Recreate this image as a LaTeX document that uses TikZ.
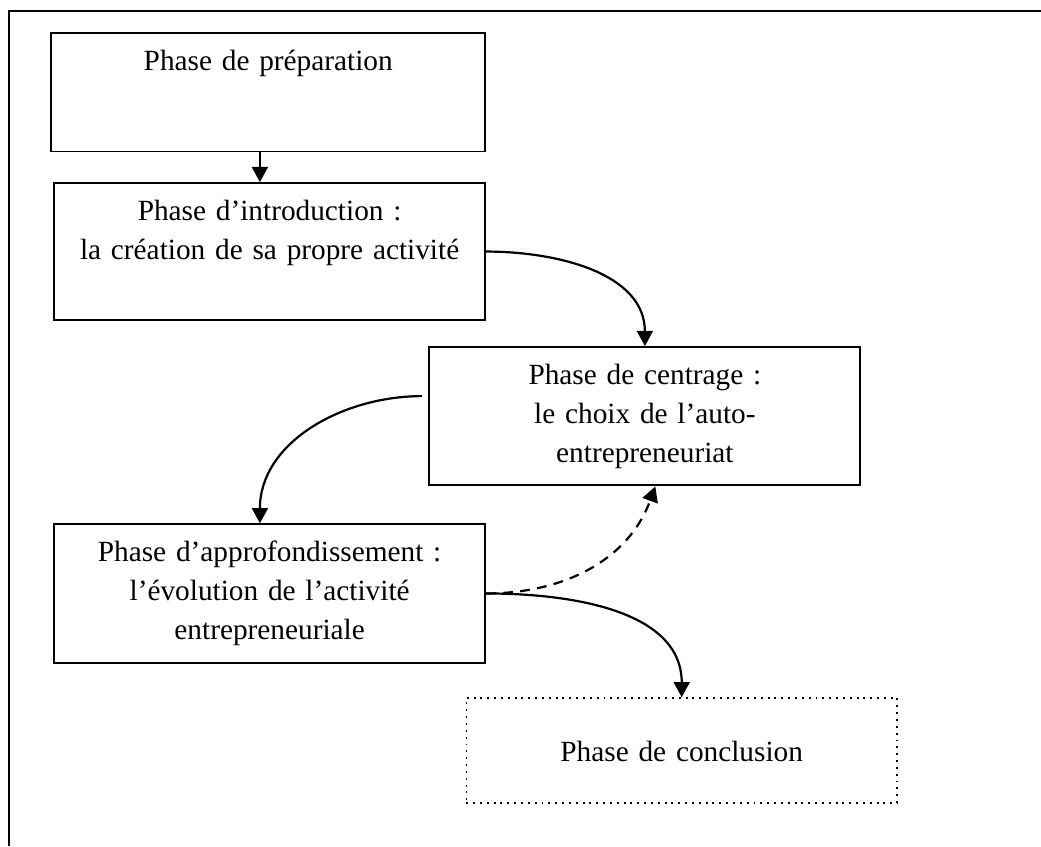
\documentclass[tikz,border=0pt]{standalone}
\usepackage{fontspec}
\setmainfont{Liberation Serif}
\usetikzlibrary{arrows.meta}

\begin{document}
\begin{tikzpicture}[
    phasebox/.style={draw, line width=0.8pt, inner sep=0pt, minimum width=6.2cm, minimum height=1.99cm},
    phasetext/.style={text width=6cm, align=center, inner sep=0pt, anchor=base, font=\fontsize{12}{16}\selectfont},
    flowarrow/.style={line width=0.9pt, -{Triangle[length=2.2mm, width=2.3mm]}}
]
        \useasboundingbox (0,0) rectangle (14.98,12.18);
        % outer frame, cut at the right and bottom
        \draw[line width=1.1pt] (0.13,0) |- (14.98,12.02);

        % Boxes
        \node[phasebox, minimum width=6.25cm, minimum height=1.70cm] (prep) at (3.86,10.85) {};
        \node[phasebox, minimum height=1.97cm] (intro) at (3.88,8.56) {};
        \node[phasebox] (centr) at (9.28,6.19) {};
        \node[phasebox] (appro) at (3.88,3.64) {};
        \node[phasebox, dotted, line width=0.6pt, minimum height=1.51cm] (concl) at (9.81,1.38) {};

        % Texts
        \node[phasetext] (prep-t) at ([yshift=-15.6pt]prep.north) {Phase de préparation};
        \node[phasetext] (intro-t) at ([yshift=-15.6pt]intro.north) {Phase d’introduction :\\la création de sa propre activité};
        \node[phasetext] (centr-t) at ([yshift=-15.6pt]centr.north) {Phase de centrage :\\le choix de l’auto-\\entrepreneuriat};
        \node[phasetext] (appro-t) at ([yshift=-15.6pt]appro.north) {Phase d’approfondissement :\\l’évolution de l’activité\\entrepreneuriale};
        \node[phasetext] (concl-t) at ([yshift=-26.2pt]concl.north) {Phase de conclusion};

        % Arrows
        \draw[flowarrow] ([xshift=-0.14cm]intro.north |- prep.south) -- ([xshift=-0.14cm]intro.north);
        \draw[flowarrow] (intro.east) to[out=0, in=90] (centr.north);
        \draw[flowarrow] ([xshift=-0.09cm, yshift=0.29cm]centr.west) to[out=180, in=90] ([xshift=-0.14cm]appro.north);
        \draw[flowarrow] (appro.east) to[out=0, in=90] (concl.north);
        \draw[flowarrow, dash pattern=on 4pt off 3pt] (appro.east) to[out=0, in=-110] ([xshift=0.15cm]centr.south);
\end{tikzpicture}
\end{document}
